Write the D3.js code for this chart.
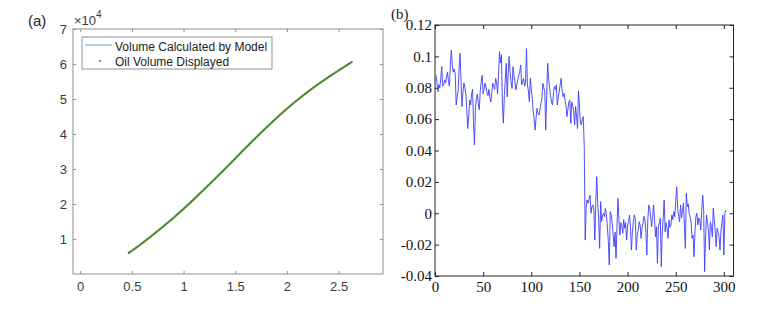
<!DOCTYPE html>
<html>
<head>
<meta charset="utf-8">
<script src="https://cdn.jsdelivr.net/npm/d3@7"></script>
<style>
  body { margin: 0; background: #fff; }
  svg { display: block; }
</style>
</head>
<body>
<div class="chart"></div>
<script>
// ---- panel (a): volume curve ----
const volX = [0.47, 0.6, 0.8, 1.0, 1.2, 1.4, 1.6, 1.8, 2.0, 2.2, 2.4, 2.63];
const volY = [0.60, 0.88, 1.35, 1.86, 2.42, 3.0, 3.6, 4.18, 4.72, 5.2, 5.62, 6.06]; // x 10^4
const xTicksA = [0, 0.5, 1, 1.5, 2, 2.5];
const yTicksA = [1, 2, 3, 4, 5, 6, 7];
const legendLabels = ["Volume Calculated by Model", "Oil Volume Displayed"];

// ---- panel (b): difference series, sample 1..302 ----
const diffY = [
  0.088, 0.083, 0.0775, 0.082, 0.080, 0.086, 0.0935, 0.081, 0.082, 0.085,
  0.083, 0.087, 0.090, 0.084, 0.081, 0.095, 0.104, 0.094, 0.090, 0.092,
  0.089, 0.069, 0.074, 0.078, 0.092, 0.102, 0.085, 0.068, 0.077, 0.083,
  0.080, 0.076, 0.066, 0.054, 0.061, 0.072, 0.069, 0.076, 0.079, 0.058,
  0.0435, 0.068, 0.073, 0.076, 0.070, 0.066, 0.078, 0.084, 0.088, 0.076,
  0.079, 0.083, 0.080, 0.077, 0.075, 0.079, 0.074, 0.071, 0.077, 0.083,
  0.081, 0.079, 0.086, 0.083, 0.076, 0.088, 0.103, 0.096, 0.101, 0.069,
  0.0575, 0.075, 0.085, 0.0956, 0.0743, 0.089, 0.100, 0.090, 0.084, 0.0796,
  0.0934, 0.088, 0.0839, 0.0786, 0.082, 0.085, 0.088, 0.090, 0.0945, 0.0818,
  0.084, 0.086, 0.081, 0.0828, 0.105, 0.0818, 0.078, 0.071, 0.086, 0.079,
  0.0733, 0.0647, 0.060, 0.053, 0.061, 0.0669, 0.064, 0.0626, 0.0658, 0.070,
  0.0733, 0.0828, 0.080, 0.0775, 0.053, 0.075, 0.0956, 0.086, 0.0796, 0.075,
  0.071, 0.069, 0.076, 0.0807, 0.079, 0.0818, 0.069, 0.074, 0.0775, 0.082,
  0.086, 0.078, 0.0743, 0.0764, 0.072, 0.069, 0.0616, 0.066, 0.071, 0.0722,
  0.0573, 0.071, 0.068, 0.0658, 0.0563, 0.068, 0.062, 0.054, 0.078, 0.069,
  0.0573, 0.0563, 0.060, 0.0616, 0.042, -0.0171, 0.004, 0.0085, 0.0064, 0.009,
  0.0116, 0.0, 0.004, 0.0053, 0.002, -0.0171, 0.008, 0.0233, 0.006, -0.0043,
  -0.0224, 0.0074, -0.0053, -0.002, 0.0, -0.0022, 0.003, -0.0011, -0.0086, -0.018,
  -0.033, 0.001, -0.001, -0.006, -0.0139, -0.0213, -0.012, -0.0287, -0.0086, 0.0095,
  -0.004, -0.0139, -0.006, -0.0075, -0.0128, -0.004, -0.0096, -0.006, -0.0171, -0.008,
  -0.0054, -0.0011, -0.009, -0.0234, -0.012, -0.0054, -0.001, -0.0032, -0.0234, -0.014,
  -0.0107, -0.0054, -0.0075, -0.016, -0.009, -0.0064, -0.002, -0.0043, -0.012, -0.0266,
  -0.0043, 0.0053, 0.0032, -0.003, -0.0086, -0.0022, 0.0053, -0.004, -0.015, -0.0086,
  -0.0319, -0.0086, -0.006, -0.0032, -0.034, -0.012, -0.0032, 0.0085, -0.0118, -0.006,
  -0.0096, -0.016, -0.0043, -0.009, -0.0075, -0.0011, -0.004, 0.001, -0.0022, 0.008,
  0.0169, 0.0032, -0.002, -0.0054, 0.0053, -0.003, 0.001, 0.0064, -0.008, -0.0224,
  0.0127, 0.0042, 0.006, 0.0, -0.0022, -0.006, -0.016, -0.0139, -0.0277, -0.012,
  -0.0022, 0.0, -0.0075, -0.003, -0.0043, -0.0107, 0.002, 0.0116, 0.0021, -0.0372,
  -0.015, -0.0011, -0.006, -0.0107, -0.0234, -0.0054, -0.009, -0.015, 0.0032, -0.004,
  -0.0118, -0.0213, -0.0096, -0.012, -0.015, -0.0234, -0.0107, -0.006, -0.0011, -0.0266,
  0.0, 0.002
];
const xTicksB = [0, 50, 100, 150, 200, 250, 300];
const yTicksB = [-0.04, -0.02, 0, 0.02, 0.04, 0.06, 0.08, 0.1, 0.12];
const yTickLabelsB = ["-0.04", "-0.02", "0", "0.02", "0.04", "0.06", "0.08", "0.1", "0.12"];

const sans = "'Liberation Sans', Arial, sans-serif";
const serif = "'Liberation Serif', 'Times New Roman', serif";

const svg = d3.select(".chart").append("svg")
  .attr("width", 768)
  .attr("height", 312);

// ================= panel (a) =================
const boxA = { left: 73, top: 29, right: 383, bottom: 274 };
const xA = d3.scaleLinear().domain([-0.07, 2.93]).range([boxA.left, boxA.right]);
const yA = d3.scaleLinear().domain([0, 7]).range([boxA.bottom, boxA.top]);
const greyA = "#8f8f8f";

const gA = svg.append("g");

function styleA(g) {
  g.attr("font-family", sans).attr("font-size", 13);
  g.select(".domain").remove();
  g.selectAll("line").attr("stroke", greyA);
  g.selectAll("text").attr("fill", "#3a3a3a");
}

gA.append("g")
  .attr("transform", "translate(0," + boxA.bottom + ")")
  .call(d3.axisBottom(xA).tickValues(xTicksA).tickSize(-3).tickPadding(8).tickFormat(d3.format("")))
  .call(styleA);

gA.append("g")
  .attr("transform", "translate(0," + boxA.top + ")")
  .call(d3.axisTop(xA).tickValues(xTicksA).tickSize(-3).tickFormat(""))
  .call(styleA);

gA.append("g")
  .attr("transform", "translate(" + boxA.left + ",0)")
  .call(d3.axisLeft(yA).tickValues(yTicksA).tickSize(-3).tickPadding(6).tickFormat(d3.format("d")))
  .call(styleA);

gA.append("g")
  .attr("transform", "translate(" + boxA.right + ",0)")
  .call(d3.axisRight(yA).tickValues(yTicksA).tickSize(-3).tickFormat(""))
  .call(styleA);

gA.append("rect")
  .attr("x", boxA.left).attr("y", boxA.top)
  .attr("width", boxA.right - boxA.left).attr("height", boxA.bottom - boxA.top)
  .attr("fill", "none").attr("stroke", greyA).attr("stroke-width", 1);

// exponent label
const expo = gA.append("text").attr("x", boxA.left + 1).attr("y", 25)
  .attr("font-family", sans).attr("font-size", 13).attr("fill", "#3a3a3a");
expo.append("tspan").text("\u00d710");
expo.append("tspan").attr("dy", -7).attr("font-size", 10).text("4");

gA.append("text").attr("x", 28).attr("y", 26)
  .attr("font-family", sans).attr("font-size", 15).attr("fill", "#222").text("(a)");

const volData = volX.map((x, i) => ({ x: x, y: volY[i] }));
const volLine = d3.line().x(d => xA(d.x)).y(d => yA(d.y)).curve(d3.curveCatmullRom);

gA.append("path").datum(volData)
  .attr("d", volLine).attr("fill", "none")
  .attr("stroke", "#4f9fe0").attr("stroke-width", 1);

// displayed oil volume drawn as tightly packed dot markers
gA.append("path").datum(volData)
  .attr("d", volLine).attr("fill", "none")
  .attr("stroke", "#4f8a2a").attr("stroke-width", 2.3)
  .attr("stroke-linecap", "round").attr("stroke-dasharray", "0,1");

// legend
const leg = gA.append("g");
leg.append("rect").attr("x", 82).attr("y", 37).attr("width", 190).attr("height", 32)
  .attr("fill", "#fff").attr("stroke", "#777").attr("stroke-width", 0.8);
leg.append("line").attr("x1", 85).attr("x2", 112).attr("y1", 45).attr("y2", 45)
  .attr("stroke", "#4f9fe0").attr("stroke-width", 1);
leg.append("circle").attr("cx", 100).attr("cy", 61).attr("r", 1.1).attr("fill", "#4f8a2a");
leg.selectAll("text.lab").data(legendLabels).enter().append("text")
  .attr("class", "lab")
  .attr("x", 115).attr("y", (d, i) => 51 + i * 15)
  .attr("font-family", sans).attr("font-size", 12).attr("fill", "#222")
  .text(d => d);

// ================= panel (b) =================
const boxB = { left: 435, top: 25, right: 733.5, bottom: 276 };
const xB = d3.scaleLinear().domain([0, 310]).range([boxB.left, boxB.right]);
const yB = d3.scaleLinear().domain([-0.04, 0.12]).range([boxB.bottom, boxB.top]);
const inkB = "#222";

const gB = svg.append("g");

function styleB(g) {
  g.attr("font-family", serif).attr("font-size", 15);
  g.select(".domain").remove();
  g.selectAll("line").attr("stroke", inkB);
  g.selectAll("text").attr("fill", "#111");
}

gB.append("g")
  .attr("transform", "translate(0," + boxB.bottom + ")")
  .call(d3.axisBottom(xB).tickValues(xTicksB).tickSize(-4).tickPadding(5).tickFormat(d3.format("d")))
  .call(styleB);

gB.append("g")
  .attr("transform", "translate(0," + boxB.top + ")")
  .call(d3.axisTop(xB).tickValues(xTicksB).tickSize(-4).tickFormat(""))
  .call(styleB);

gB.append("g")
  .attr("transform", "translate(" + boxB.left + ",0)")
  .call(d3.axisLeft(yB).tickValues(yTicksB).tickSize(-4).tickPadding(3)
    .tickFormat((d, i) => yTickLabelsB[i]))
  .call(styleB);

gB.append("g")
  .attr("transform", "translate(" + boxB.right + ",0)")
  .call(d3.axisRight(yB).tickValues(yTicksB).tickSize(-4).tickFormat(""))
  .call(styleB);

gB.append("rect")
  .attr("x", boxB.left).attr("y", boxB.top)
  .attr("width", boxB.right - boxB.left).attr("height", boxB.bottom - boxB.top)
  .attr("fill", "none").attr("stroke", inkB).attr("stroke-width", 1);

gB.append("text").attr("x", 391).attr("y", 19)
  .attr("font-family", serif).attr("font-size", 15).attr("fill", "#222").text("(b)");

const diffLine = d3.line().x((d, i) => xB(i + 1)).y(d => yB(d));
gB.append("path").datum(diffY)
  .attr("d", diffLine).attr("fill", "none")
  .attr("stroke", "#3c3cff").attr("stroke-width", 0.9);
</script>
</body>
</html>
